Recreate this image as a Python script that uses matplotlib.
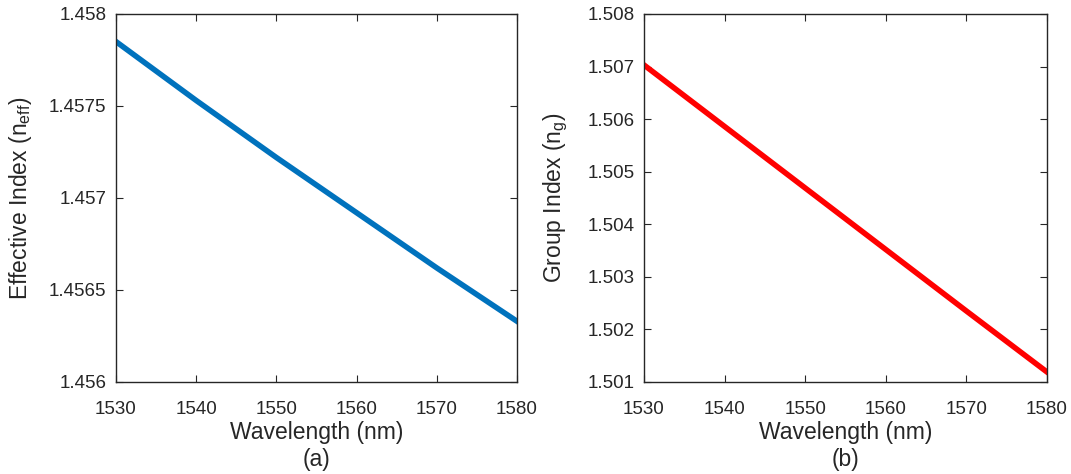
import numpy as np
import matplotlib
matplotlib.use('Agg')
import matplotlib.pyplot as plt

plt.rcParams['font.family'] = ['Liberation Sans', 'DejaVu Sans']
plt.rcParams['mathtext.fontset'] = 'custom'
plt.rcParams['mathtext.rm'] = 'Liberation Sans'
plt.rcParams['mathtext.it'] = 'Liberation Sans'

# longueurs d'onde (nm) et indices
wavelength = [1530, 1540, 1550, 1560, 1570, 1580]
n_eff = [1.45785, 1.45753, 1.45722, 1.45692, 1.45662, 1.45633]
n_g = [1.50703, 1.50586, 1.50469, 1.50352, 1.50235, 1.50119]

eff_ticks = [1.456, 1.4565, 1.457, 1.4575, 1.458]
eff_ticklabels = ['1.456', '1.4565', '1.457', '1.4575', '1.458']
g_ticks = [1.501, 1.502, 1.503, 1.504, 1.505, 1.506, 1.507, 1.508]
x_ticks = [1530, 1540, 1550, 1560, 1570, 1580]

txt = '#262626'
W, H = 1071, 474
fig = plt.figure(figsize=(W / 100, H / 100), dpi=100)
ax1 = fig.add_axes([116 / W, (H - 382) / H, 401 / W, 368 / H])
ax2 = fig.add_axes([644 / W, (H - 382) / H, 403 / W, 368 / H])


def style(ax):
    for s in ax.spines.values():
        s.set_color(txt)
        s.set_linewidth(1.0)
    ax.tick_params(direction='in', length=5, width=0.8, colors=txt,
                   labelsize=13.5, top=True, right=True)
    ax.tick_params(axis='x', pad=14)
    ax.tick_params(axis='y', pad=7)
    ax.set_xlim(1530, 1580)
    ax.set_xticks(x_ticks)
    ax.set_xticklabels([str(t) for t in x_ticks])


ax1.plot(wavelength, n_eff, color='#0072BD', lw=4)
style(ax1)
ax1.set_ylim(1.456, 1.458)
ax1.set_yticks(eff_ticks)
ax1.set_yticklabels(eff_ticklabels)
ax1.set_xlabel('Wavelength (nm)\n(a)', fontsize=16.5, color=txt, labelpad=2)
ax1.set_ylabel(r'Effective Index (n$_{\rm eff}$)', fontsize=16.5, color=txt)
ax1.yaxis.set_label_coords(-(116 - 34) / 401, 0.5)

ax2.plot(wavelength, n_g, color='#FF0000', lw=4)
style(ax2)
ax2.set_ylim(1.501, 1.508)
ax2.set_yticks(g_ticks)
ax2.set_yticklabels(['%.3f' % t for t in g_ticks])
ax2.set_xlabel('Wavelength (nm)\n(b)', fontsize=16.5, color=txt, labelpad=2)
ax2.set_ylabel(r'Group Index (n$_{\rm g}$)', fontsize=16.5, color=txt)
ax2.yaxis.set_label_coords(-(644 - 570) / 403, 0.5)

fig.savefig('out.png', dpi=100)
